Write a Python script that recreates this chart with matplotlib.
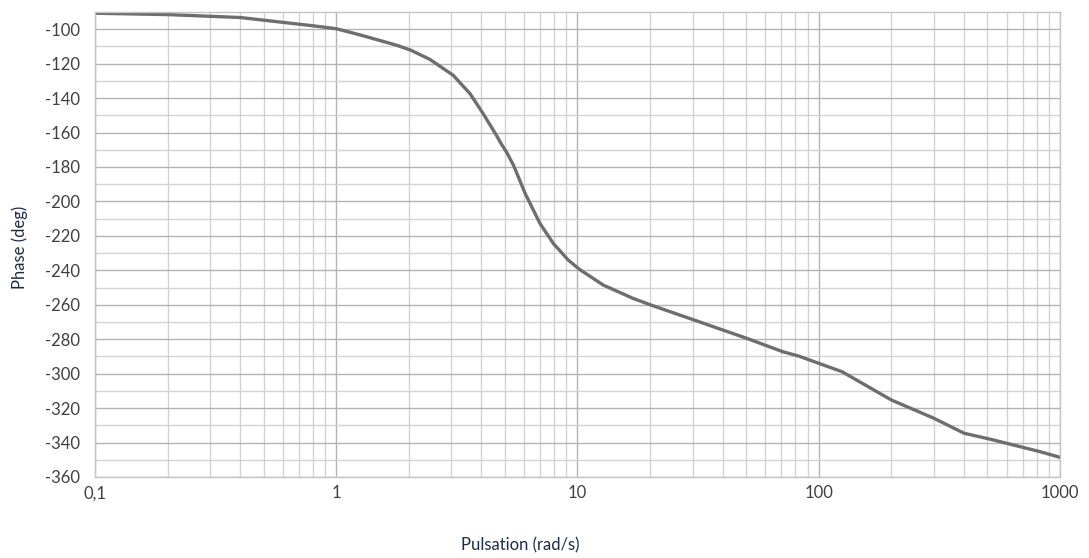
import matplotlib.pyplot as plt
from matplotlib.ticker import FixedLocator, LogLocator, NullFormatter

plt.rcParams['axes.unicode_minus'] = False

# pulsation (rad/s) and phase (deg)
pulsation = [0.1, 0.2, 0.4, 0.6, 0.8, 1, 1.27, 1.78, 2.04, 2.45, 3.05, 3.58,
             4.06, 4.63, 4.78, 5.11, 5.43, 6.07, 6.99, 7.94, 9.15, 10.2, 12.8,
             17, 20.2, 30.5, 50.3, 71.1, 82.6, 100, 125, 200, 300, 400, 515,
             826, 1000]
phase = [-90.7, -91.5, -93.2, -96, -98, -99.7, -103.5, -109.3, -112.2, -117.6,
         -126.7, -137.3, -148.9, -162, -165.5, -172, -179, -195.4, -212.8,
         -224.4, -234, -239.5, -248.6, -256.3, -260.2, -268.9, -279.5, -287.3,
         -289.8, -294, -298.9, -315.3, -325.9, -334.6, -338.1, -345.3, -348.6]

x_ticks = [0.1, 1, 10, 100, 1000]
x_labels = ['0,1', '1', '10', '100', '1000']
y_ticks = list(range(-360, -99, 20))

fig = plt.figure(figsize=(10.89, 5.58), dpi=100)
ax = fig.add_axes([0.0872, 0.1452, 0.8862, 0.8333])

ax.set_xscale('log')
ax.set_xlim(0.1, 1000)
ax.set_ylim(-360, -90)

ax.xaxis.set_major_locator(FixedLocator(x_ticks))
ax.set_xticks(x_ticks)
ax.set_xticklabels(x_labels)
ax.xaxis.set_minor_locator(LogLocator(base=10, subs=range(2, 10)))
ax.xaxis.set_minor_formatter(NullFormatter())
ax.set_yticks(y_ticks)
ax.set_yticks(range(-350, -90, 20), minor=True)

ax.grid(True, which='major', color='#b4b4b4', linewidth=1)
ax.grid(True, which='minor', color='#d4d4d4', linewidth=1)
ax.set_axisbelow(True)

for s in ax.spines.values():
    s.set_color('#c4c4c4')
    s.set_linewidth(1)

ax.tick_params(which='both', length=0)
ax.tick_params(axis='y', pad=11, labelsize=12, labelcolor='#404040')
ax.tick_params(axis='x', pad=6, labelsize=12, labelcolor='#404040')
for lab in ax.get_xticklabels() + ax.get_yticklabels():
    lab.set_family('Lato')

ax.plot(pulsation, phase, color='#6e6e6e', linewidth=2.4,
        solid_capstyle='round', solid_joinstyle='round')

fig.text(0.478, 0.023, 'Pulsation (rad/s)', fontsize=12, color='#1f2a44',
         family='Lato', ha='center', va='center')
fig.text(0.018, 0.557, 'Phase (deg)', fontsize=12, color='#1f2a44',
         family='Lato', rotation=90, ha='center', va='center')

plt.savefig('out.png', dpi=100)
